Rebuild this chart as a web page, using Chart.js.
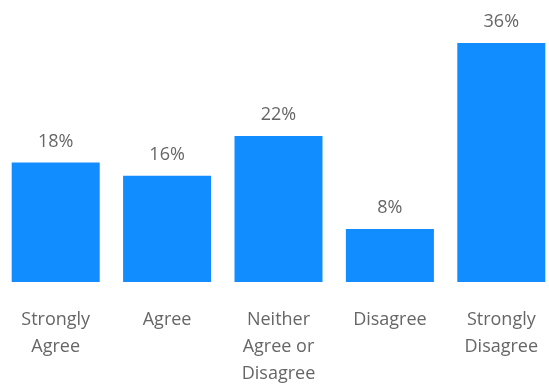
<!DOCTYPE html>
<html>
<head>
<meta charset="utf-8">
<script src="https://cdn.jsdelivr.net/npm/chart.js@4/dist/chart.umd.min.js"></script>
<style>
  html, body { margin: 0; padding: 0; background: #fff; overflow: hidden; }
  #wrap { position: absolute; left: 0; top: 0; width: 557px; height: 387px; }
</style>
</head>
<body>
<div id="wrap"><canvas id="bar-chart"></canvas></div>
<script>
const categories = [
    ["Strongly", "Agree"],
    ["Agree"],
    ["Neither", "Agree or", "Disagree"],
    ["Disagree"],
    ["Strongly", "Disagree"]
];
const shares = [18, 16, 22, 8, 36];

// draws the "18%" style labels above each bar
const valueLabels = {
    id: 'valueLabels',
    afterDatasetsDraw(chart) {
        const ctx = chart.ctx;
        const meta = chart.getDatasetMeta(0);
        ctx.save();
        ctx.font = '18px "Open Sans"';
        ctx.fillStyle = '#666666';
        ctx.textAlign = 'center';
        ctx.textBaseline = 'middle';
        meta.data.forEach((bar, i) => {
            ctx.fillText(shares[i] + '%', bar.x, bar.y - 21);
        });
        ctx.restore();
    }
};

const ctx = document.getElementById('bar-chart').getContext('2d');
window.myBarChart = new Chart(ctx, {
    type: 'bar',
    data: {
        labels: categories,
        datasets: [{
            data: shares,
            backgroundColor: '#118DFF',
            borderWidth: 0,
            categoryPercentage: 1,
            barPercentage: 0.79
        }]
    },
    options: {
        responsive: true,
        maintainAspectRatio: false,
        animation: false,
        layout: { padding: { top: 43, bottom: -16, left: 0, right: 0 } },
        plugins: {
            legend: { display: false },
            tooltip: { enabled: false }
        },
        scales: {
            x: {
                grid: { display: false },
                border: { display: false },
                ticks: {
                    color: '#666666',
                    font: { family: '"Open Sans"', size: 18, lineHeight: 1.5 },
                    padding: 16,
                    maxRotation: 0,
                    autoSkip: false
                }
            },
            y: {
                display: false,
                min: 0,
                max: 36
            }
        }
    },
    plugins: [valueLabels]
});
</script>
</body>
</html>
